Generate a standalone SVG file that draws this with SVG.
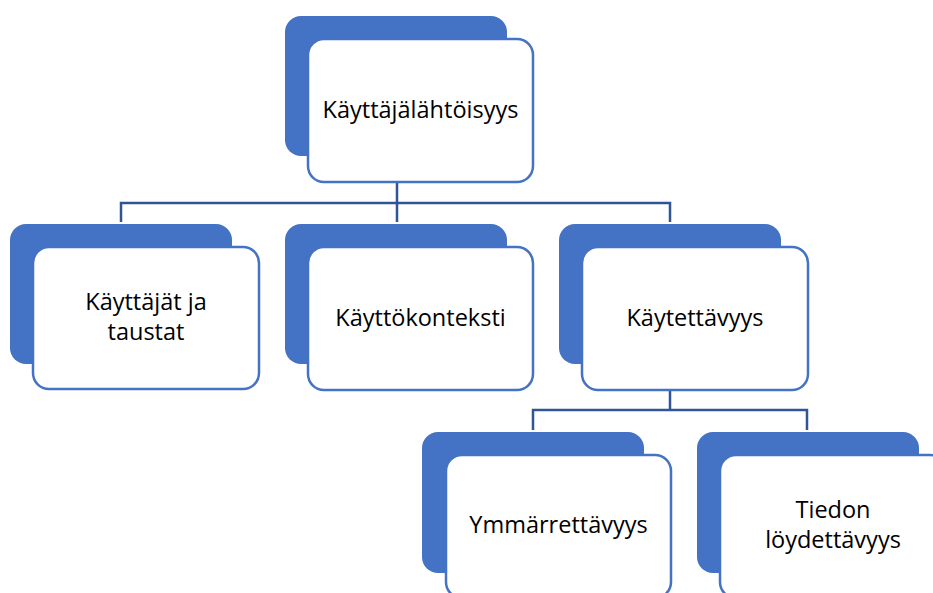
<svg xmlns="http://www.w3.org/2000/svg" width="933" height="593" viewBox="0 0 933 593">
<style>
.back{fill:#4472C4;}
.front{fill:#FFFFFF;stroke:#4472C4;stroke-width:2.5;}
.lbl{font-family:"Open Sans","Liberation Sans",sans-serif;font-size:23.5px;fill:#000000;text-anchor:middle;}
.conn{fill:none;stroke:#2F5597;stroke-width:2.5;}
</style>
<rect width="933" height="593" fill="#FFFFFF"/>
<g id="connectors">
<path class="conn" d="M397,182 V222 M121,222 V203 H670 V222"/>
<path class="conn" d="M670,390 V410 M533,430 V410 H807 V430"/>
</g>
<g id="n-root">
<rect class="back" x="285" y="16" width="222" height="140" rx="16"/>
<rect class="front" x="308" y="39" width="225" height="143" rx="16"/>
<text class="lbl" x="420.5" y="118">Käyttäjälähtöisyys</text>
</g>
<g id="n-kayttajat">
<rect class="back" x="10" y="224" width="222" height="140" rx="16"/>
<rect class="front" x="33" y="247" width="226" height="142" rx="16"/>
<text class="lbl" x="146" y="310">Käyttäjät ja</text>
<text class="lbl" x="146" y="340">taustat</text>
</g>
<g id="n-kontekst">
<rect class="back" x="285" y="224" width="222" height="140" rx="16"/>
<rect class="front" x="308" y="247" width="225" height="143" rx="16"/>
<text class="lbl" x="420.5" y="326">Käyttökonteksti</text>
</g>
<g id="n-kaytettavyys">
<rect class="back" x="559" y="224" width="222" height="140" rx="16"/>
<rect class="front" x="582" y="247" width="226" height="143" rx="16"/>
<text class="lbl" x="695" y="326">Käytettävyys</text>
</g>
<g id="n-ymmarrettavyys">
<rect class="back" x="422" y="432" width="222" height="141" rx="16"/>
<rect class="front" x="446" y="455" width="225" height="143" rx="16"/>
<text class="lbl" x="558.5" y="533">Ymmärrettävyys</text>
</g>
<g id="n-tiedon">
<rect class="back" x="697" y="432" width="222" height="141" rx="16"/>
<rect class="front" x="720" y="455" width="226" height="143" rx="16"/>
<text class="lbl" x="833" y="518">Tiedon</text>
<text class="lbl" x="833" y="548">löydettävyys</text>
</g>
</svg>
